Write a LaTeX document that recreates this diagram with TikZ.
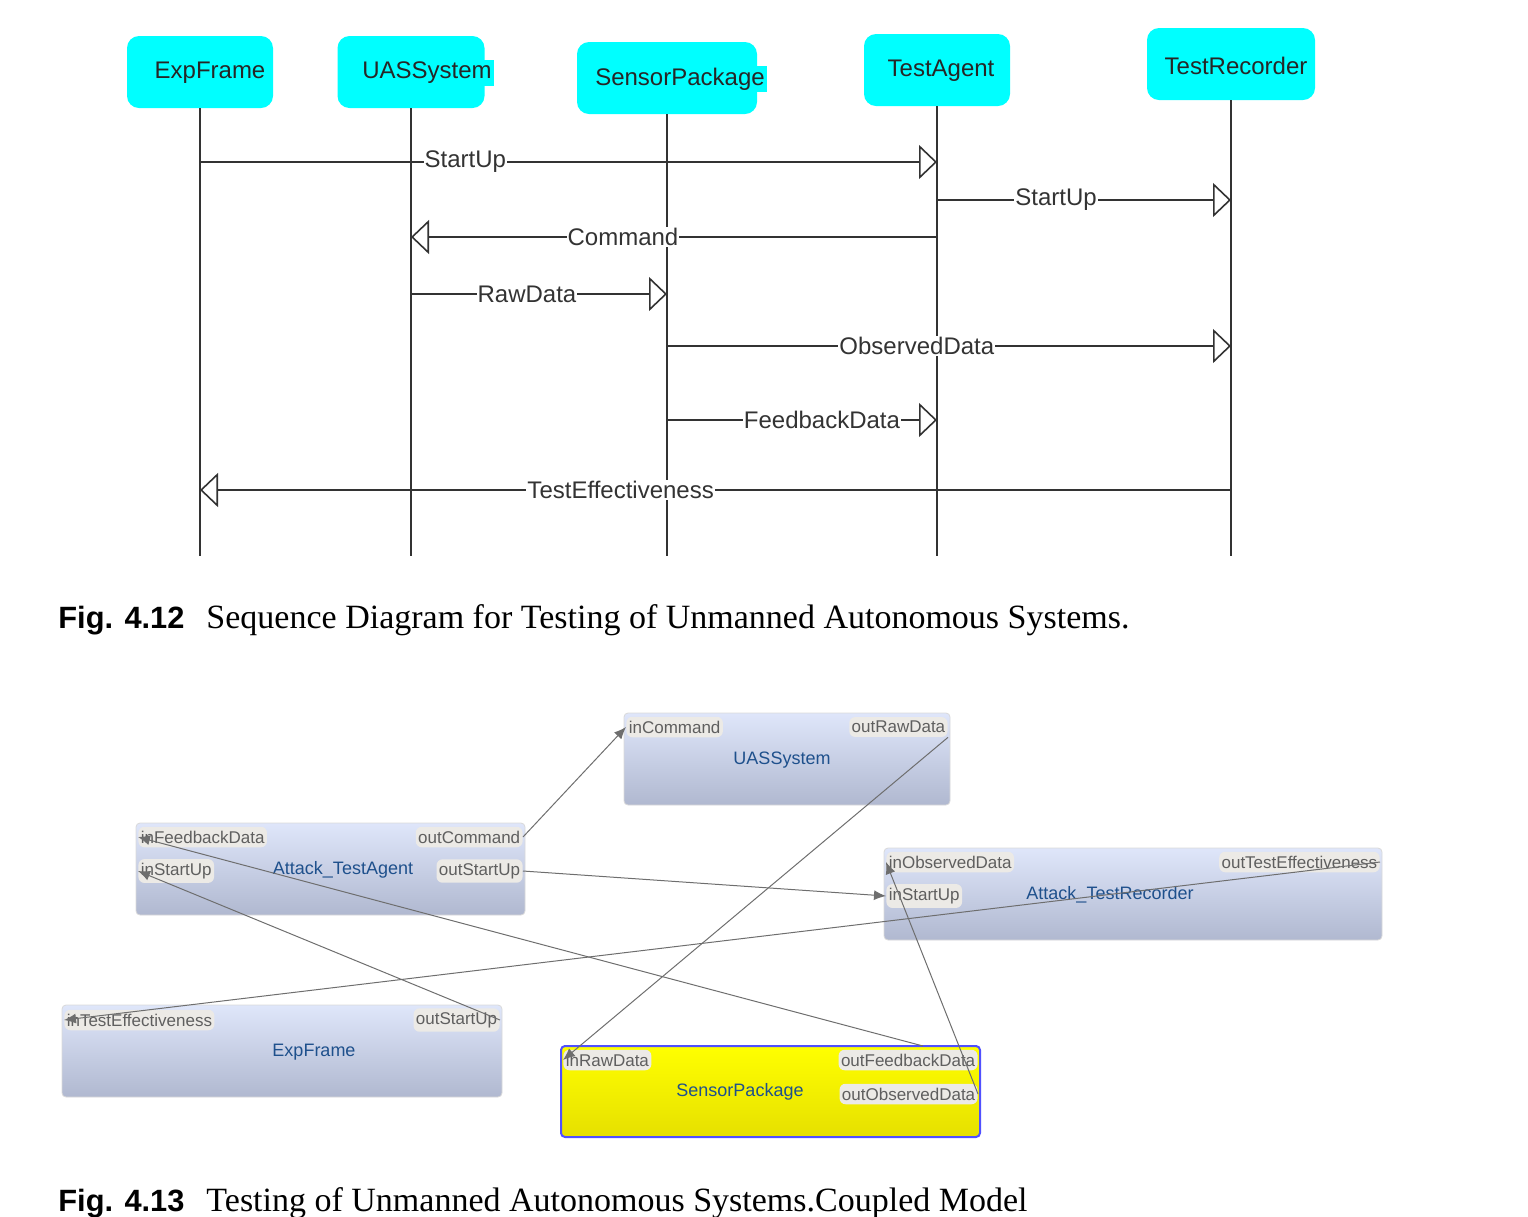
\documentclass[tikz,border=0pt]{standalone}
\usepackage{fontspec}
\setmainfont{Liberation Serif}
\setsansfont{Liberation Sans}
\usetikzlibrary{arrows.meta}

\definecolor{lifecyan}{RGB}{0,255,255}
\definecolor{boxtop}{RGB}{223,230,250}
\definecolor{boxbot}{RGB}{176,184,208}
\definecolor{porttxt}{RGB}{95,95,95}
\definecolor{portbg}{RGB}{236,234,230}
\definecolor{titletxt}{RGB}{30,80,140}
\definecolor{wiregray}{RGB}{110,110,110}
\definecolor{sensyel}{RGB}{255,255,0}
\definecolor{sensbot}{RGB}{230,224,0}
\definecolor{sensblue}{RGB}{80,80,255}

\begin{document}
\begin{tikzpicture}[x=0.5pt,y=-0.5pt,
    lifebox/.style={rectangle,rounded corners=6pt,fill=lifecyan,minimum height=36pt},
    lifetext/.style={fill=lifecyan,inner sep=1pt,font=\sffamily\fontsize{12}{14}\selectfont,text=black!85},
    lifeline/.style={line width=0.8pt,black!80},
    msg/.style={line width=0.8pt,black!80,-{Triangle[open,length=9pt,width=17pt]}},
    msglbl/.style={fill=white,inner sep=0.5pt,font=\sffamily\fontsize{12}{14}\selectfont,text=black!80},
    block/.style={rectangle,rounded corners=2pt,draw=gray!30,top color=boxtop,bottom color=boxbot,minimum height=46pt},
    blocktitle/.style={font=\sffamily\fontsize{9}{11}\selectfont,text=titletxt,inner sep=0pt},
    port/.style={rounded corners=3pt,fill=portbg,text=porttxt,inner xsep=1.2pt,inner ysep=2pt,font=\sffamily\fontsize{8.5}{10}\selectfont},
    wire/.style={wiregray,line width=0.5pt,-{Latex[length=6pt,width=5pt]}}]
  \useasboundingbox (0,0) rectangle (1528,1217);

  % sequence diagram
  \node[lifebox,minimum width=73pt] (ef) at (200,72) {};
  \node[lifetext] (ef-t) at (210,73) {ExpFrame};
  \node[lifebox,minimum width=73.5pt] (uas) at (411,72) {};
  \node[lifetext] (uas-t) at (427,73) {UASSystem};
  \node[lifebox,minimum width=90pt] (sp) at (667,78) {};
  \node[lifetext] (sp-t) at (680,79) {SensorPackage};
  \node[lifebox,minimum width=73pt] (ta) at (937,70) {};
  \node[lifetext] (ta-t) at (941,71) {TestAgent};
  \node[lifebox,minimum width=84pt] (tr) at (1231,64) {};
  \node[lifetext] (tr-t) at (1236,66) {TestRecorder};

  \coordinate (bot) at (0,556);
  \foreach \n in {ef,uas,sp,ta,tr}
    \draw[lifeline] (\n.south) -- (\n |- bot);

  \coordinate (m1) at (0,162);
  \coordinate (m2) at (0,200);
  \coordinate (m3) at (0,237);
  \coordinate (m4) at (0,294);
  \coordinate (m5) at (0,346);
  \coordinate (m6) at (0,420);
  \coordinate (m7) at (0,490);

  \draw[msg] (ef |- m1) -- node[msglbl,pos=0.36] (l1) {StartUp} (ta |- m1);
  \draw[msg] (ta |- m2) -- node[msglbl,pos=0.405] (l2) {StartUp} (tr |- m2);
  \draw[msg] (ta |- m3) -- node[msglbl,pos=0.597] (l3) {Command} (uas |- m3);
  \draw[msg] (uas |- m4) -- node[msglbl,pos=0.453] (l4) {RawData} (sp |- m4);
  \draw[msg] (sp |- m5) -- node[msglbl,pos=0.443] (l5) {ObservedData} (tr |- m5);
  \draw[msg] (sp |- m6) -- node[msglbl,pos=0.574] (l6) {FeedbackData} (ta |- m6);
  \draw[msg] (tr |- m7) -- node[msglbl,pos=0.592] (l7) {TestEffectiveness} (ef |- m7);

  \node[anchor=base west,inner sep=0pt] (cap1) at (58,628)
    {\sffamily\bfseries\fontsize{15.4}{18}\selectfont Fig. 4.12\hspace{11pt}\rmfamily\mdseries\fontsize{17}{19}\selectfont Sequence Diagram for Testing of Unmanned Autonomous Systems.};

  % coupled model
  \node[block,minimum width=163pt] (uas2) at (787,759) {};
  \node[blocktitle] (uas2-t) at (782,760) {UASSystem};
  \node[port,anchor=west] (uas2-in) at (626,727) {inCommand};
  \node[port,anchor=east] (uas2-out) at (948,727) {outRawData};

  \node[block,minimum width=194.5pt] (tag) at (330.5,869) {};
  \node[blocktitle] (tag-t) at (343,870) {Attack\_TestAgent};
  \node[port,anchor=west] (tag-ifb) at (138,837) {inFeedbackData};
  \node[port,anchor=east] (tag-oc) at (523,837) {outCommand};
  \node[port,anchor=west] (tag-is) at (138,871) {inStartUp};
  \node[port,anchor=east] (tag-os) at (523,871) {outStartUp};

  \node[block,minimum width=249pt] (trec) at (1133,894) {};
  \node[blocktitle] (trec-t) at (1110,895) {Attack\_TestRecorder};
  \node[port,anchor=west] (trec-iod) at (886,862) {inObservedData};
  \node[port,anchor=east] (trec-ote) at (1380,862) {outTestEffectiveness};
  \node[port,anchor=west] (trec-is) at (886,896) {inStartUp};

  \node[block,minimum width=220pt] (expf) at (282,1051) {};
  \node[blocktitle] (expf-t) at (314,1052) {ExpFrame};
  \node[port,anchor=west] (expf-ite) at (64,1020) {inTestEffectiveness};
  \node[port,anchor=east] (expf-os) at (500,1020) {outStartUp};

  \node[block,top color=sensyel,bottom color=sensbot,draw=sensblue,line width=1pt,minimum width=209.5pt,minimum height=45.5pt] (sp2) at (770.5,1091.5) {};
  \node[blocktitle] (sp2-t) at (740,1092) {SensorPackage};
  \node[port,anchor=west] (sp2-ird) at (563,1060) {inRawData};
  \node[port,anchor=east] (sp2-ofd) at (978,1060) {outFeedbackData};
  \node[port,anchor=east] (sp2-ood) at (978,1094) {outObservedData};
  \coordinate (fb-src) at (923,1046);

  \draw[wire] (tag-oc.east) -- (uas2-in.west);
  \draw[wire] (uas2-out.south east) -- (sp2-ird.west);
  \draw[wire] (tag-os.east) -- (trec-is.west);
  \draw[wire] (fb-src) -- (tag-ifb.west);
  \draw[wire] (sp2-ood.east) -- (trec-iod.west);
  \draw[wire] (expf-os.east) -- (tag-is.west);
  \draw[wire] (trec-ote.east) -- (expf-ite.west);

  \node[anchor=base west,inner sep=0pt] (cap2) at (58,1211)
    {\sffamily\bfseries\fontsize{15.4}{18}\selectfont Fig. 4.13\hspace{11pt}\rmfamily\mdseries\fontsize{17}{19}\selectfont Testing of Unmanned Autonomous Systems.Coupled Model};
\end{tikzpicture}
\end{document}
